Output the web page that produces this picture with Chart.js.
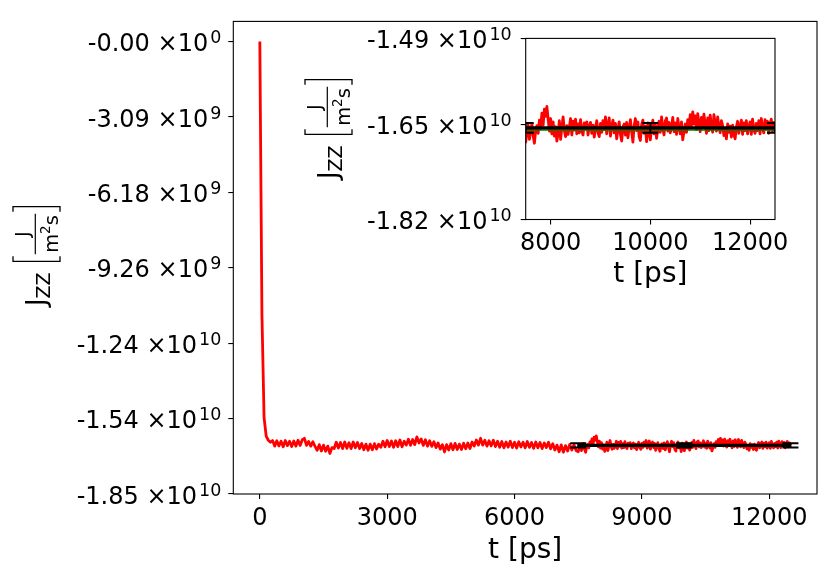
<!DOCTYPE html>
<html>
<head>
<meta charset="utf-8">
<script src="https://cdn.jsdelivr.net/npm/chart.js@4.4.1/dist/chart.umd.min.js"></script>
<style>
  body { margin: 0; background: #fff; }
  #wrap { position: relative; width: 830px; height: 580px; background: #fff; }
  canvas { position: absolute; }
</style>
</head>
<body>
<div id="wrap">
  <canvas id="mainChart" width="830" height="580" style="left:0;top:0"></canvas>
  <canvas id="insetChart" width="510" height="285" style="left:290px;top:15px"></canvas>
</div>
<script>
// Jzz heat flux, units of 1e8 J/(m^2 s)
// equilibration part: one sample every 50 ps, t = 0 ... 7450 ps
const EARLY_DT = 50;
const jzzEarly = [
  0, -112, -154, -161.5, -163.2, -164.0, -163.3, -165.6, -163.4, -165.5,
  -163.6, -165.9, -163.3, -165.4, -163.6, -165.8, -163.5, -165.6, -163.2, -165.3,
  -163.0, -162.4, -165.3, -163.7, -165.6, -163.8, -165.7, -167.3, -165.0, -167.6,
  -165.2, -167.7, -165.6, -168.6, -166.2, -166.6, -164.0, -166.4, -164.1, -166.6,
  -163.9, -166.5, -164.2, -166.6, -163.9, -166.3, -164.1, -166.6, -164.5, -167.1,
  -164.8, -167.3, -164.8, -167.1, -164.6, -166.8, -164.8, -166.1, -163.6, -165.9,
  -163.3, -165.8, -163.5, -166.1, -163.4, -165.8, -163.1, -165.9, -163.6, -165.2,
  -162.8, -165.3, -162.9, -165.0, -161.8, -164.3, -162.7, -165.3, -163.0, -165.6,
  -163.4, -165.7, -163.8, -166.2, -164.3, -166.8, -165.0, -168.0, -165.0, -167.2,
  -164.6, -167.1, -164.5, -167.0, -164.8, -167.0, -164.4, -166.7, -164.3, -166.6,
  -163.9, -165.6, -163.1, -165.2, -162.4, -165.2, -163.2, -165.6, -163.4, -165.5,
  -163.2, -165.8, -163.6, -166.1, -163.7, -166.3, -163.9, -166.0, -163.6, -166.2,
  -164.0, -166.4, -163.8, -165.9, -164.0, -166.3, -163.7, -166.1, -164.1, -166.5,
  -163.9, -166.3, -164.1, -166.6, -164.3, -166.2, -164.0, -166.7, -164.6, -167.2,
  -165.2, -167.9, -165.1, -168.1, -165.4, -167.6, -164.9, -167.2, -165.0, -167.4,
];
// averaging window: one sample every 25 ps, t = 7500 ... 12500 ps
const LATE_START = 7500;
const LATE_DT = 25;
const jzzLate = [
  -167.9, -166.2, -164.8, -167.4, -165.9, -164.5, -166.8, -168.1, -165.7, -164.9,
  -166.3, -163.9, -165.4, -162.6, -164.8, -161.9, -163.2, -161.4, -163.7, -165.9,
  -163.6, -166.4, -164.2, -166.8, -165.1, -167.7, -166.2, -164.0, -167.4, -165.3,
  -163.3, -165.8, -166.9, -164.9, -166.5, -165.2, -163.6, -166.6, -164.1, -165.7,
  -163.7, -166.4, -164.6, -166.2, -163.8, -165.9, -166.6, -164.4, -165.5, -164.2,
  -166.6, -165.0, -164.3, -166.3, -164.8, -167.0, -165.3, -164.0, -166.2, -166.9,
  -164.5, -166.1, -164.0, -165.6, -163.3, -166.4, -164.7, -163.5, -166.8, -165.0,
  -163.9, -166.2, -164.5, -167.3, -165.6, -164.2, -166.5, -167.7, -165.1, -164.6,
  -166.6, -164.3, -167.1, -165.4, -163.8, -166.0, -167.9, -164.9, -163.6, -165.8,
  -164.2, -166.9, -167.6, -164.7, -163.9, -166.3, -165.0, -167.8, -164.4, -166.1,
  -167.5, -165.2, -163.9, -166.4, -164.6, -167.2, -165.5, -164.1, -166.1, -163.3,
  -165.4, -166.6, -164.0, -163.5, -165.9, -164.3, -166.2, -165.1, -163.4, -166.0,
  -164.4, -166.5, -163.6, -165.3, -166.4, -164.2, -167.5, -165.9, -164.6, -166.1,
  -163.8, -165.2, -162.9, -164.9, -162.4, -164.6, -163.1, -165.6, -162.7, -164.3,
  -166.0, -163.4, -165.2, -162.8, -164.7, -166.3, -163.5, -165.8, -163.0, -164.9,
  -166.1, -162.9, -164.4, -165.9, -163.3, -165.1, -166.2, -164.0, -164.9, -166.7,
  -165.4, -167.3, -164.6, -166.1, -165.0, -167.0, -164.8, -166.5, -167.3, -165.2,
  -164.1, -166.3, -165.0, -163.9, -166.5, -164.4, -165.8, -164.0, -166.4, -165.1,
  -164.2, -166.5, -163.7, -165.6, -166.3, -164.5, -165.8, -164.0, -166.4, -163.6,
  -165.3, -166.2, -163.8, -165.5, -164.1, -166.3, -164.6, -163.7, -165.9, -164.3,
  -165.2,
];
const jzzTime = [
  ...jzzEarly.map((_, i) => i * EARLY_DT),
  ...jzzLate.map((_, i) => LATE_START + i * LATE_DT),
];
const jzz = [...jzzEarly, ...jzzLate];

// block averages with error bars (black) and fitted level (green)
const meanTime = [7500, 10000, 12500];
const meanValue = [-165.3, -165.3, -165.3];
const meanError = [0.9, 0.9, 0.9];
const fitTime = [7500, 12500];
const fitValue = [-165.7, -165.7];

// ticks
const mainXTicks = [0, 3000, 6000, 9000, 12000];
const mainXTickLabels = ['0', '3000', '6000', '9000', '12000'];
const mainYTicks = [0, -30.87, -61.73, -92.6, -123.47, -154.33, -185.2];
const mainYTickMantissas = ['-0.00 ×10', '-3.09 ×10', '-6.18 ×10', '-9.26 ×10',
  '-1.24 ×10', '-1.54 ×10', '-1.85 ×10'];
const mainYTickExponents = ['0', '9', '9', '9', '10', '10', '10'];
const insetXTicks = [8000, 10000, 12000];
const insetXTickLabels = ['8000', '10000', '12000'];
const insetYTicks = [-149, -164.7, -182];
const insetYTickMantissas = ['-1.49 ×10', '-1.65 ×10', '-1.82 ×10'];
const insetYTickExponents = ['10', '10', '10'];

const FONT = "'DejaVu Sans', sans-serif";

function toPoints(xs, ys) {
  return xs.map((x, i) => ({ x: x, y: ys[i] }));
}

// рамка вокруг области графика (все четыре стороны)
function frameBorderPlugin() {
  return {
    id: 'frameBorder',
    afterDraw(chart) {
      const { ctx, chartArea: a } = chart;
      ctx.save();
      ctx.strokeStyle = '#000';
      ctx.lineWidth = 1.1;
      ctx.strokeRect(a.left, a.top, a.right - a.left, a.bottom - a.top);
      ctx.restore();
    },
  };
}

// вертикальные планки погрешности с "шапками"
function errorBarPlugin(capHalf) {
  return {
    id: 'errorBars',
    afterDatasetsDraw(chart) {
      const { ctx, chartArea: a, scales } = chart;
      ctx.save();
      ctx.beginPath();
      ctx.rect(a.left, a.top, a.right - a.left, a.bottom - a.top);
      ctx.clip();
      ctx.strokeStyle = '#000';
      ctx.lineWidth = 2;
      meanTime.forEach((t, i) => {
        const px = scales.x.getPixelForValue(t);
        const top = scales.y.getPixelForValue(meanValue[i] + meanError[i]);
        const bot = scales.y.getPixelForValue(meanValue[i] - meanError[i]);
        ctx.beginPath();
        ctx.moveTo(px, top); ctx.lineTo(px, bot);
        ctx.moveTo(px - capHalf, top); ctx.lineTo(px + capHalf, top);
        ctx.moveTo(px - capHalf, bot); ctx.lineTo(px + capHalf, bot);
        ctx.stroke();
      });
      ctx.restore();
    },
  };
}

// подписи делений оси Y в виде "-1.54 ×10^10" с настоящим верхним индексом
function sciTickPlugin(mantissas, exponents, pad) {
  return {
    id: 'sciTicks',
    afterDraw(chart) {
      const { ctx } = chart;
      const ys = chart.scales.y;
      ctx.save();
      ctx.fillStyle = '#000';
      ctx.textAlign = 'right';
      ctx.textBaseline = 'alphabetic';
      ys.ticks.forEach((tick, i) => {
        const base = ys.getPixelForValue(tick.value) + 9.5;
        const right = ys.right - 5 - pad;
        ctx.font = `17.5px ${FONT}`;
        const we = ctx.measureText(exponents[i]).width;
        ctx.fillText(exponents[i], right, base - 8);
        ctx.font = `24px ${FONT}`;
        ctx.fillText(mantissas[i], right - we - 2, base);
      });
      ctx.restore();
    },
  };
}

// подпись оси Y: J_ZZ [J / m^2 s], повернутая на 90 градусов
function jzzLabelPlugin(cx, cy) {
  return {
    id: 'jzzLabel',
    afterDraw(chart) {
      const ctx = chart.ctx;
      const big = `27px ${FONT}`;
      const sub = `19px ${FONT}`;
      const frac = `19.5px ${FONT}`;
      const sup = `13.5px ${FONT}`;
      const w = (txt, f) => { ctx.font = f; return ctx.measureText(txt).width; };

      const wJ = w('J', big);
      const wZ = w('ZZ', sub);
      const wNum = w('J', frac);
      const wM = w('m', frac), w2 = w('2', sup), wS = w('s', frac);
      const wDen = wM + w2 + wS;
      const wFrac = Math.max(wNum, wDen) + 3;
      const gap = 10, br = 6;
      const total = wJ + wZ + gap + br + 2 + wFrac + 2 + br;

      ctx.save();
      ctx.translate(cx, cy);
      ctx.rotate(-Math.PI / 2);
      ctx.fillStyle = '#000';
      ctx.strokeStyle = '#000';
      ctx.textBaseline = 'alphabetic';
      ctx.textAlign = 'left';
      const base = 8.5;
      let x = -total / 2;

      ctx.font = big; ctx.fillText('J', x, base); x += wJ;
      ctx.font = sub; ctx.fillText('ZZ', x, base + 5); x += wZ + gap;

      const bTop = base - 32, bBot = base + 15;
      ctx.lineWidth = 1.3;
      ctx.beginPath();
      ctx.moveTo(x + br, bTop); ctx.lineTo(x + 1, bTop); ctx.lineTo(x + 1, bBot); ctx.lineTo(x + br, bBot);
      ctx.stroke();
      x += br + 2;

      const fx = x;
      ctx.lineWidth = 1.2;
      ctx.beginPath();
      ctx.moveTo(fx, base - 9.7); ctx.lineTo(fx + wFrac, base - 9.7);
      ctx.stroke();
      ctx.font = frac; ctx.fillText('J', fx + (wFrac - wNum) / 2, base - 16.5);
      let dx = fx + (wFrac - wDen) / 2;
      ctx.fillText('m', dx, base + 13); dx += wM;
      ctx.font = sup; ctx.fillText('2', dx, base + 5); dx += w2;
      ctx.font = frac; ctx.fillText('s', dx, base + 13);
      x += wFrac + 2;

      ctx.lineWidth = 1.3;
      ctx.beginPath();
      ctx.moveTo(x, bTop); ctx.lineTo(x + br - 1, bTop); ctx.lineTo(x + br - 1, bBot); ctx.lineTo(x, bBot);
      ctx.stroke();
      ctx.restore();
    },
  };
}

// order: меньшее значение рисуется поверх
function buildDatasets() {
  return [
    {
      data: toPoints(jzzTime, jzz),
      borderColor: 'red',
      borderWidth: 2.8,
      borderJoinStyle: 'round',
      pointRadius: 0,
      tension: 0,
      order: 3,
    },
    {
      data: toPoints(fitTime, fitValue),
      borderColor: 'green',
      borderWidth: 1.5,
      pointRadius: 0,
      order: 2,
    },
    {
      data: toPoints(meanTime, meanValue),
      borderColor: '#000',
      borderWidth: 3.3,
      pointRadius: 0,
      order: 1,
    },
  ];
}

// общие настройки осей
function axisOptions(cfg) {
  return {
    type: 'linear',
    min: cfg.min,
    max: cfg.max,
    afterBuildTicks: (scale) => {
      scale.ticks = cfg.ticks.map((v) => ({ value: v }));
    },
    afterFit: cfg.afterFit,
    ticks: {
      color: '#000',
      font: { family: FONT, size: 24 },
      padding: cfg.padding,
      maxRotation: 0,
      minRotation: 0,
      autoSkip: false,
      callback: (value, index) => (cfg.labels ? cfg.labels[index] : ''),
    },
    grid: {
      display: true,
      drawOnChartArea: false,
      drawTicks: true,
      tickLength: 5,
      color: '#000',
      lineWidth: 1.1,
    },
    border: { display: false },
    title: cfg.title
      ? {
          display: true,
          text: cfg.title,
          color: '#000',
          font: { family: FONT, size: 28 },
          padding: { top: 0, bottom: cfg.titlePad },
        }
      : { display: false },
  };
}

function buildChart(canvasId, opts) {
  const ctx = document.getElementById(canvasId).getContext('2d');
  return new Chart(ctx, {
    type: 'line',
    data: { datasets: buildDatasets() },
    options: {
      animation: false,
      responsive: false,
      maintainAspectRatio: false,
      events: [],
      plugins: {
        legend: { display: false },
        tooltip: { enabled: false },
      },
      layout: { padding: opts.padding },
      scales: {
        x: axisOptions(opts.x),
        y: axisOptions(opts.y),
      },
    },
    plugins: [
      frameBorderPlugin(),
      errorBarPlugin(8),
      sciTickPlugin(opts.yMantissas, opts.yExponents, opts.yPad),
      jzzLabelPlugin(opts.labelX, opts.labelY),
    ],
  });
}

// основной график
buildChart('mainChart', {
  padding: { left: 0, top: 13, right: 13, bottom: 0 },
  labelX: 36.5,
  labelY: 256,
  yMantissas: mainYTickMantissas,
  yExponents: mainYTickExponents,
  yPad: 7,
  x: {
    min: -625, max: 13125, ticks: mainXTicks, labels: mainXTickLabels, padding: 5,
    title: 't [ps]', titlePad: 12,
    afterFit: (s) => { s.height = 86; },
  },
  y: {
    min: -185.2, max: 8.27, ticks: mainYTicks, padding: 7,
    afterFit: (s) => { s.width = 233.3; },
  },
});

// врезка (увеличенный участок 7500-12500 пс)
buildChart('insetChart', {
  padding: { left: 0, top: 17, right: 25, bottom: 0 },
  labelX: 38.5,
  labelY: 114,
  yMantissas: insetYTickMantissas,
  yExponents: insetYTickExponents,
  yPad: 9,
  x: {
    min: 7500, max: 12500, ticks: insetXTicks, labels: insetXTickLabels, padding: 5,
    title: 't [ps]', titlePad: 8,
    afterFit: (s) => { s.height = 80.5; },
  },
  y: {
    min: -182, max: -149, ticks: insetYTicks, padding: 9,
    afterFit: (s) => { s.width = 235.7; },
  },
});
</script>
</body>
</html>
